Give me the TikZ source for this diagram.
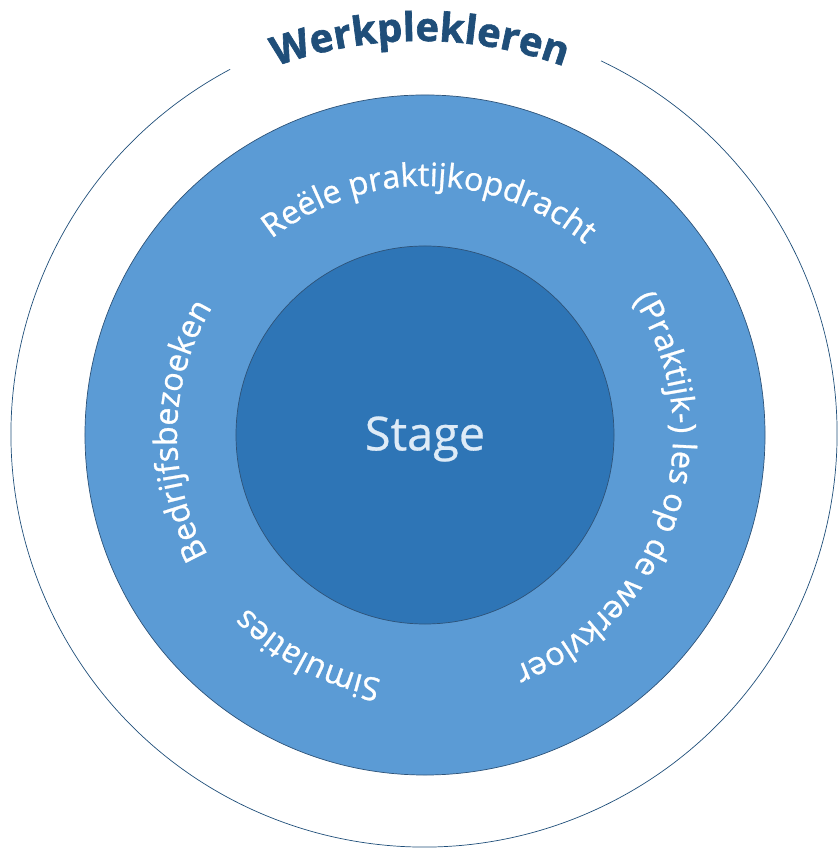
\documentclass[tikz,border=0pt]{standalone}
\usepackage{fontspec}
\setmainfont{Open Sans}
\newfontfamily\ringfont{Open Sans}[FakeBold=0.9]
\newfontfamily\stagefont{Open Sans}[FakeBold=0.6]
\newfontfamily\titlefont{Open Sans Bold}[FakeBold=1.6]
\usetikzlibrary{decorations.text}
\definecolor{ringblue}{HTML}{5B9BD5}
\definecolor{coreblue}{HTML}{2E75B6}
\definecolor{edgeblue}{HTML}{2E5378}
\definecolor{navy}{HTML}{1F4E79}
\definecolor{stagetext}{HTML}{DEEBF7}
\begin{document}
\begin{tikzpicture}[x=0.03cm,y=0.03cm,
  ringtext/.style={decorate, decoration={text along path, text align=center, text={|\ringfont\fontsize{27.5}{30}\selectfont\color{white}|#1}}}]
\useasboundingbox (0,0) rectangle (838,849);
\coordinate (c) at (425,414);
\coordinate (co) at (424,415);
\coordinate (cw) at (420,388);
% outer circle with gap at top
\draw[navy, line width=0.6pt] (co) ++(118:413) arc[start angle=118, end angle=424.6, radius=413];
% middle ring
\node[circle, draw=edgeblue, line width=0.6pt, fill=ringblue, minimum size=20.4cm, inner sep=0pt] (ring) at (c) {};
% inner circle
\node[circle, draw=edgeblue, line width=0.6pt, fill=coreblue, minimum size=11.34cm, inner sep=0pt] (core) at (c) {};
\node[text=stagetext, font=\stagefont\fontsize{40}{44}\selectfont] (stage) at (425,410) {Stage};
% ring texts (clockwise arcs)
\path[ringtext={Reële praktijkopdracht}] (c) ++(169:249) arc[start angle=169, end angle=9, radius=249];
\path[ringtext={Bedrijfsbezoeken}] (c) ++(259:248) arc[start angle=259, end angle=99, radius=248];
\path[ringtext={(Praktijk-) les op de werkvloer}] (c) ++(82:248) arc[start angle=82, end angle=-118, radius=248];
\path[ringtext={Simulaties}] (c) ++(322:248) arc[start angle=322, end angle=162, radius=248];
% title
\path[decorate, decoration={text along path, text align=center, text={|\titlefont\fontsize{34}{38}\selectfont\color{navy}|Werkplekleren}}] (cw) ++(120:420) arc[start angle=120, end angle=60, radius=420];
\end{tikzpicture}
\end{document}
